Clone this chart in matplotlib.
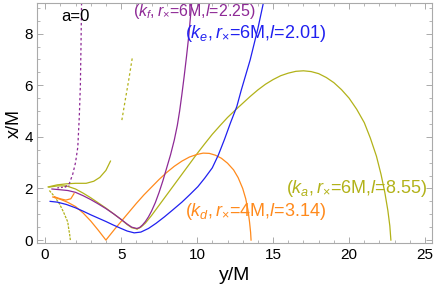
import matplotlib

matplotlib.use("Agg")
import matplotlib.pyplot as plt
from matplotlib.ticker import MultipleLocator

plt.rcParams["font.family"] = ["Liberation Sans", "DejaVu Sans"]
plt.rcParams["mathtext.fontset"] = "custom"
plt.rcParams["mathtext.rm"] = "Liberation Sans"
plt.rcParams["mathtext.it"] = "Liberation Sans:italic"

PURPLE = "#8e2a96"
BLUE = "#2020f0"
ORANGE = "#ff8a1c"
OLIVE = "#b2b219"

# (y/M, x/M) points
ka_y = [6.05, 6.3, 6.6, 7.0, 7.5, 8.0, 8.5, 9.0, 9.5, 10.0, 10.5, 11.0, 11.5, 12.0,
        12.5, 13.0, 13.5, 14.0, 14.5, 15.0, 15.5, 16.0, 16.5, 17.0, 17.5, 18.0,
        18.5, 19.0, 19.5, 20.0, 20.5, 21.0, 21.4, 21.8, 22.1, 22.35, 22.55, 22.68,
        22.75]
ka_x = [0.43, 0.5, 0.66, 0.95, 1.35, 1.75, 2.15, 2.55, 2.95, 3.35, 3.73, 4.1, 4.43,
        4.75, 5.03, 5.3, 5.57, 5.82, 6.04, 6.22, 6.37, 6.47, 6.54, 6.56, 6.53, 6.45,
        6.3, 6.1, 5.83, 5.5, 5.07, 4.55, 3.95, 3.25, 2.55, 1.85, 1.15, 0.55, 0.0]
ka_in_y = [0.25, 0.8, 1.4, 2.0, 2.5, 3.0, 3.5, 4.0, 4.5, 5.0, 5.4, 5.7, 6.05]
ka_in_x = [2.05, 2.1, 2.1, 1.98, 1.82, 1.64, 1.44, 1.24, 1.02, 0.8, 0.6, 0.48, 0.43]
ka_up_y = [0.2, 0.8, 1.4, 2.0, 2.7, 3.2, 3.6, 4.0, 4.3]
ka_up_x = [2.06, 2.14, 2.18, 2.2, 2.2, 2.28, 2.43, 2.7, 3.06]
ka_fall_y = [0.28, 0.6, 0.94, 1.2, 1.49, 1.55, 1.62, 1.66]
ka_fall_x = [1.92, 1.7, 1.41, 1.1, 0.7, 0.45, 0.2, 0.0]
ka_seg_y = [5.05, 5.25, 5.5, 5.74]
ka_seg_x = [4.65, 5.35, 6.2, 7.08]

kf_y = [0.45, 1.0, 1.5, 2.0, 2.5, 3.0, 3.5, 4.0, 4.5, 5.0, 5.4, 5.7, 6.03, 6.2,
        6.4, 6.6, 6.8, 7.0, 7.25, 7.5, 7.75, 8.0, 8.25, 8.5, 8.7, 8.85, 9.0,
        9.15, 9.3, 9.45, 9.66]
kf_x = [1.98, 1.95, 1.92, 1.85, 1.72, 1.57, 1.4, 1.22, 1.02, 0.8, 0.62, 0.5, 0.45,
        0.48, 0.58, 0.72, 0.9, 1.12, 1.45, 1.85, 2.3, 2.8, 3.3, 3.88, 4.45, 5.0,
        5.65, 6.35, 7.1, 7.9, 9.3]
kf_dot_y = [1.3, 1.6, 1.82, 2.0, 2.15, 2.25, 2.32, 2.36, 2.4]
kf_dot_x = [2.05, 2.2, 2.56, 3.0, 3.6, 4.8, 6.0, 7.5, 9.3]
kf_bit_y = [0.8, 1.2, 1.6]
kf_bit_x = [2.02, 2.05, 2.1]

ke_y = [0.33, 0.8, 1.4, 2.0, 2.5, 3.0, 3.5, 4.0, 4.5, 5.0, 5.4, 5.86, 6.3, 6.8,
        7.3, 7.85, 8.4, 9.0, 9.5, 10.05, 10.5, 11.0, 11.4, 11.8, 12.2, 12.61,
        12.9, 13.2, 13.49, 13.75, 14.0, 14.2, 14.4]
ke_x = [1.5, 1.47, 1.38, 1.25, 1.12, 0.98, 0.85, 0.72, 0.58, 0.45, 0.35, 0.28,
        0.31, 0.45, 0.65, 0.9, 1.17, 1.47, 1.75, 2.07, 2.4, 2.8, 3.3, 3.9, 4.55,
        5.17, 5.8, 6.4, 6.98, 7.6, 8.2, 8.75, 9.3]

kd_y = [0.5, 1.0, 1.5, 2.0, 2.5, 3.0, 3.5, 4.0, 4.3, 4.6, 5.0, 5.5, 6.0, 6.5, 7.0,
        7.5, 8.0, 8.5, 9.0, 9.5, 10.0, 10.4, 10.8, 11.2, 11.6, 12.0, 12.4, 12.7,
        13.0, 13.2, 13.35, 13.45, 13.52, 13.55]
kd_x = [1.67, 1.58, 1.46, 1.3, 1.05, 0.74, 0.38, 0.0, 0.22, 0.44, 0.72, 1.07, 1.42,
        1.75, 2.05, 2.35, 2.62, 2.86, 3.06, 3.22, 3.32, 3.37, 3.36, 3.29, 3.17,
        2.98, 2.72, 2.42, 2.0, 1.6, 1.15, 0.7, 0.3, 0.0]
kd_hook_y = [0.6, 1.0, 1.36, 1.69, 1.9]
kd_hook_x = [1.68, 1.6, 1.55, 1.6, 1.8]

fig = plt.figure(figsize=(4.36, 2.94), dpi=100)
ax = fig.add_axes([0.085, 0.172, 0.906, 0.818])

lw = 0.9
ax.plot(ka_y, ka_x, color=OLIVE, lw=lw)
ax.plot(ka_in_y, ka_in_x, color=OLIVE, lw=lw)
ax.plot(ka_up_y, ka_up_x, color=OLIVE, lw=lw)
ax.plot(ka_fall_y, ka_fall_x, color=OLIVE, lw=lw, ls=(0, (2, 1)))
ax.plot(ka_seg_y, ka_seg_x, color=OLIVE, lw=lw, ls=(0, (2, 2)))
ax.plot(kd_y, kd_x, color=ORANGE, lw=lw)
ax.plot(kd_hook_y, kd_hook_x, color=ORANGE, lw=lw)
ax.plot(kf_y, kf_x, color=PURPLE, lw=lw)
ax.plot(kf_dot_y, kf_dot_x, color=PURPLE, lw=lw, ls=(0, (2, 2)))
ax.plot(kf_bit_y, kf_bit_x, color=PURPLE, lw=lw, ls=(0, (1.5, 1.5)))
ax.plot(ke_y, ke_x, color=BLUE, lw=lw)

ax.text(1.97, 8.68, "a=0", fontsize=12, ha="center", va="center")
ax.text(5.8, 8.84, r"$(k_f,r_{\times}$=6M,$l$=2.25)", color=PURPLE,
        fontsize=11.5, va="center")
ax.text(9.2, 8.02, r"$(k_e,r_{\times}$=6M,$l$=2.01)", color=BLUE,
        fontsize=13, va="center")
ax.text(15.85, 2.0, r"$(k_a,r_{\times}$=6M,$l$=8.55)", color=OLIVE,
        fontsize=13, va="center")
ax.text(9.2, 1.1, r"$(k_d,r_{\times}$=4M,$l$=3.14)", color=ORANGE,
        fontsize=13, va="center")

ax.set_xlim(-0.53, 25.46)
ax.set_ylim(-0.13, 9.19)
ax.xaxis.set_major_locator(MultipleLocator(5))
ax.xaxis.set_minor_locator(MultipleLocator(1))
ax.yaxis.set_major_locator(MultipleLocator(2))
ax.yaxis.set_minor_locator(MultipleLocator(0.5))
ax.tick_params(which="both", direction="in", top=True, right=True,
               color="#aaaaaa", labelsize=11, pad=3)
ax.tick_params(which="major", length=4, width=0.7)
ax.tick_params(which="minor", length=2.3, width=0.6)
for s in ax.spines.values():
    s.set_color("#aaaaaa")
    s.set_linewidth(0.8)
ax.set_xlabel("y/M", fontsize=14, labelpad=4)
ax.set_ylabel("x/M", fontsize=13, labelpad=1)

fig.savefig("out.png", dpi=100)
